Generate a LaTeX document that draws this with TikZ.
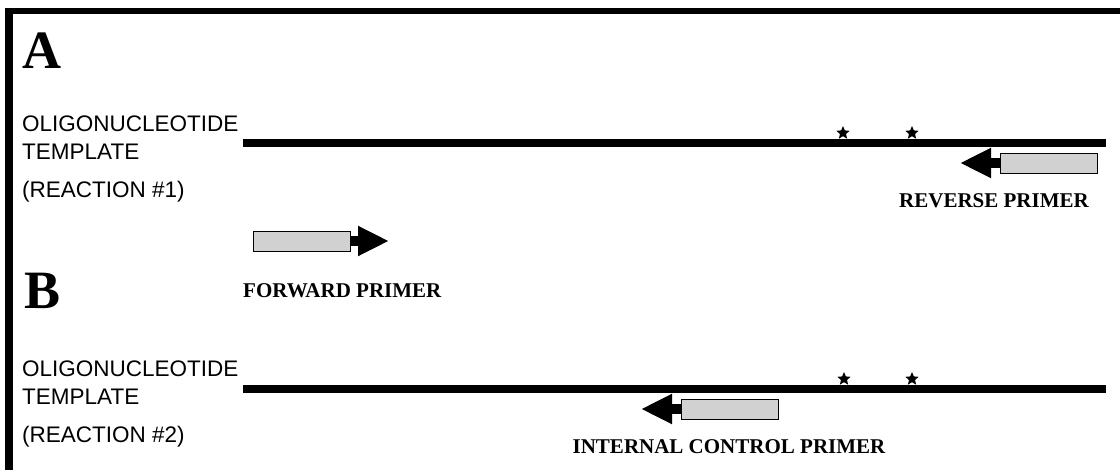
\documentclass[tikz,border=0pt]{standalone}
\usepackage{fontspec}
\setmainfont{Liberation Serif}
\newfontfamily\labelfont{Liberation Sans}
\usetikzlibrary{arrows.meta,shapes.geometric}

\begin{document}
\begin{tikzpicture}[
  x=1pt,y=-1pt,
  tpl/.style={anchor=west,inner sep=0pt,font=\labelfont\fontsize{22.5}{24}\selectfont},
  panel/.style={anchor=west,inner sep=0pt,font=\bfseries\fontsize{54}{56}\selectfont},
  plabel/.style={inner sep=0pt,font=\bfseries\fontsize{21}{23}\selectfont},
  strand/.style={line width=8pt},
  mark5/.style={star,star points=5,star point ratio=2.2,fill=black,inner sep=0pt,minimum size=14pt},
  pbox/.style={draw,line width=0.8pt,fill=black!18,minimum width=97pt,minimum height=20pt,inner sep=0pt},
  parr/.style={line width=10pt,-{Triangle[length=31pt,width=28pt]}}
]
\useasboundingbox (0,0) rectangle (1120,470);
% frame
\fill (5,8) rectangle (1120,14);
\fill (5,8) rectangle (13,470);

% Panel A
\node[panel] (pA) at (22,51) {A};
\node[tpl] (oligoA) at (22,124) {OLIGONUCLEOTIDE};
\node[tpl] (tempA) at (22,152) {TEMPLATE};
\node[tpl] (reacA) at (22,192) {(REACTION \#1)};
\coordinate (sA1) at (243,143);
\coordinate (sA2) at (1106,143);
\draw[strand] (sA1) -- (sA2);
\node[mark5] (mA1) at (843,133) {};
\node[mark5] (mA2) at (912,133) {};

% reverse primer
\node[pbox] (rev) at (1048.5,163) {};
\coordinate (revtip) at (960,163);
\draw[parr] (rev.west) -- (revtip);
\node[plabel] (revlab) at (994,201) {REVERSE PRIMER};

% forward primer
\node[pbox] (fwd) at (302,241) {};
\coordinate (fwdtip) at (389,241);
\draw[parr] (fwd.east) -- (fwdtip);
\node[plabel,anchor=west] (fwdlab) at (243,291) {FORWARD PRIMER};

% Panel B
\node[panel] (pB) at (24,291) {B};
\node[tpl] (oligoB) at (22,369) {OLIGONUCLEOTIDE};
\node[tpl] (tempB) at (22,397) {TEMPLATE};
\node[tpl] (reacB) at (22,437) {(REACTION \#2)};
\coordinate (sB1) at (243,389);
\coordinate (sB2) at (1106,389);
\draw[strand] (sB1) -- (sB2);
\node[mark5] (mB1) at (844,379) {};
\node[mark5] (mB2) at (912,379) {};

% internal control primer
\node[pbox] (ctl) at (729.5,409) {};
\coordinate (ctltip) at (641,409);
\draw[parr] (ctl.west) -- (ctltip);
\node[plabel] (ctllab) at (729,447) {INTERNAL CONTROL PRIMER};
\end{tikzpicture}
\end{document}
